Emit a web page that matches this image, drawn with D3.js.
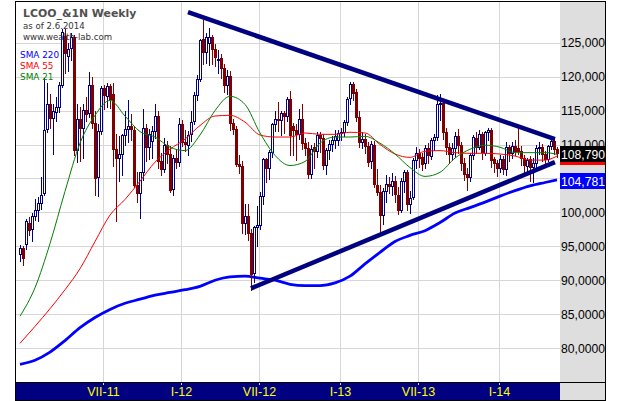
<!DOCTYPE html>
<html><head><meta charset="utf-8">
<script src="https://cdn.jsdelivr.net/npm/d3@7"></script>
<style>html,body{margin:0;padding:0;background:#fff;overflow:hidden}svg{display:block}</style>
</head><body>
<svg id="c" width="620" height="401"></svg>
<script>
// ---- weekly OHLC (Brent continuous, Dec 2010 - Jun 2014) ----
const opens = [
93.9,94.7,95.3,98.5,97.5,99.5,100.4,101.4,102.8,112.3,
116.0,113.9,114.8,115.6,118.7,126.0,123.0,124.2,125.8,109.2,
113.8,112.4,115.1,114.6,118.7,113.2,105.2,112.0,118.3,117.2,
118.6,117.5,109.4,108.0,108.6,111.4,112.3,112.8,112.2,104.0,
102.8,105.9,112.5,109.6,110.5,112.0,114.2,107.6,106.4,109.9,
108.6,103.4,108.0,107.4,113.0,110.4,110.0,111.5,113.4,117.3,
119.6,125.5,123.6,125.0,125.8,124.1,122.4,122.7,121.2,118.8,
120.1,113.2,112.3,107.1,106.8,98.4,99.5,97.0,91.0,97.8,
98.2,102.4,107.8,106.5,108.9,113.0,113.7,113.6,114.6,114.2,
116.7,112.7,112.2,111.5,113.8,110.2,109.5,105.7,109.6,109.0,
111.4,110.9,107.0,109.2,110.1,110.6,110.6,111.7,111.9,113.3,
116.8,118.9,117.7,114.0,110.4,110.8,109.8,107.5,110.0,104.1,
103.0,99.6,103.2,104.2,103.9,104.6,102.6,100.4,104.6,105.9,
101.2,102.2,107.7,108.8,108.1,107.2,109.5,108.3,110.6,111.1,
116.0,116.1,111.8,109.6,108.6,109.5,111.3,109.9,107.2,105.7,
105.2,108.5,111.0,109.7,111.6,108.8,111.8,112.2,107.8,107.2,
106.5,107.9,106.4,109.6,108.8,109.8,109.5,109.0,108.0,106.9,
107.8,106.7,107.3,109.5,109.6,108.6,107.9,109.8,110.5,109.4];
const highs = [
95.2,95.0,99.0,99.3,99.9,102.0,102.2,105.2,119.8,119.0,
117.4,116.0,117.0,119.2,127.0,127.0,124.9,126.4,126.2,115.9,
115.5,116.0,117.0,120.7,120.0,115.0,113.0,118.6,118.8,119.0,
118.9,119.0,111.5,111.2,111.5,115.0,116.5,114.5,112.8,106.0,
106.0,115.3,113.0,112.3,112.7,116.0,115.0,108.7,111.0,110.5,
109.8,108.5,109.4,113.9,113.6,112.2,112.0,115.0,117.8,120.2,
125.5,128.4,126.5,127.1,126.2,124.8,124.0,123.4,121.8,121.0,
120.9,113.8,112.8,108.5,107.5,101.3,101.2,97.5,98.0,101.0,
103.0,108.0,108.0,109.2,113.2,115.0,116.2,115.0,115.0,117.0,
117.9,113.2,113.0,115.2,116.0,111.0,110.3,110.0,110.2,111.8,
111.9,111.5,109.5,110.6,111.2,112.2,112.2,112.5,113.6,117.0,
119.2,119.2,118.2,115.0,111.9,111.5,110.4,110.5,110.5,106.4,
104.0,103.6,105.5,105.2,105.8,105.3,103.8,105.0,106.2,106.3,
103.2,108.0,109.6,109.4,108.7,110.0,110.2,111.0,111.6,117.3,
117.4,116.4,112.4,110.2,110.2,111.8,112.3,110.4,108.0,106.5,
108.8,111.4,111.8,112.2,111.9,112.0,112.5,112.4,108.2,107.7,
108.5,108.3,110.3,110.0,110.4,110.6,112.4,109.8,108.5,108.0,
108.3,108.0,110.0,110.4,110.1,109.0,110.0,111.0,110.9,109.6];
const lows = [
92.8,92.3,94.6,96.6,95.8,98.9,98.8,100.5,102.6,111.8,
112.5,108.6,113.5,114.8,118.5,120.5,120.9,122.5,108.4,107.4,
107.5,108.0,113.5,114.0,112.5,102.5,102.4,111.5,115.3,115.5,
115.4,106.9,98.7,104.6,105.5,110.0,110.3,110.7,103.8,101.5,
99.2,104.8,107.6,107.8,108.0,111.0,106.5,105.5,106.0,107.2,
103.0,102.5,106.5,106.9,109.8,109.0,108.5,110.5,113.0,116.5,
119.3,121.8,122.0,121.7,121.8,121.6,120.5,119.8,117.8,117.5,
112.1,111.6,106.8,105.8,97.0,96.8,95.9,88.5,89.8,95.0,
97.5,101.2,104.5,104.9,108.2,112.0,112.0,111.4,111.7,113.5,
108.4,108.5,107.7,110.8,109.3,108.5,105.0,105.0,106.5,108.2,
108.9,106.4,105.7,107.8,109.0,109.5,110.0,110.6,111.2,112.9,
115.9,116.5,113.5,109.7,109.5,108.8,106.8,106.5,103.8,102.5,
96.8,98.3,101.5,102.8,102.5,101.6,99.8,100.0,103.0,100.3,
99.9,101.9,106.5,106.7,106.3,106.5,107.3,107.8,109.2,110.6,
113.6,110.8,108.6,107.2,107.7,108.2,108.7,106.2,104.7,103.3,
104.6,107.8,108.8,109.4,107.9,108.5,110.6,106.7,105.9,105.3,
106.0,105.6,105.5,107.6,108.0,108.5,108.6,107.0,105.5,105.8,
104.6,104.5,106.5,108.6,107.6,107.0,107.5,109.3,108.6,108.2];
const closes = [
94.75,93.33,98.68,97.39,99.42,100.4,101.43,102.52,112.14,115.97,
113.84,114.9,115.59,118.7,126.65,123.45,124.1,125.89,109.13,113.83,
112.39,115.09,114.56,118.78,113.21,105.12,111.97,118.33,117.24,118.67,
116.74,109.37,108.03,108.62,111.36,112.33,112.77,112.22,104.0,102.8,
105.88,112.5,109.56,111.6,111.97,114.2,107.57,106.4,109.94,108.63,
103.35,107.96,107.38,113.06,110.44,110.04,111.46,113.36,117.31,119.58,
125.47,123.65,125.77,125.81,124.11,122.88,122.67,121.21,118.8,120.13,
113.18,112.26,107.14,106.83,98.43,99.47,97.02,90.98,97.8,98.19,
102.4,107.83,106.47,108.94,112.95,113.71,113.59,114.57,114.25,116.66,
111.42,112.2,111.5,113.8,110.2,109.55,105.68,109.4,109.0,111.38,
110.9,107.02,109.15,110.1,110.6,111.31,111.7,111.89,113.28,116.76,
118.9,117.66,114.01,110.4,110.85,109.82,107.47,110.02,104.12,102.97,
99.65,103.16,104.19,103.91,104.64,102.64,100.39,104.56,105.93,101.18,
102.16,107.72,108.81,108.07,107.17,109.54,108.5,110.6,111.1,116.0,
116.12,111.8,109.6,108.63,109.46,111.28,109.94,107.2,105.7,105.2,
108.5,111.05,109.69,111.61,108.83,111.77,112.18,107.78,107.25,106.48,
107.88,106.4,109.57,108.75,109.85,109.07,108.98,108.0,106.92,107.76,
106.72,107.33,109.53,109.58,108.59,107.89,109.75,110.54,109.41,108.79];

// ---- moving averages (at bar index smaIndex) ----
const smaIndex = [0,5,10,15,20,25,30,35,40,45,50,55,60,65,70,75,80,85,90,95,100,105,110,115,120,125,130,135,140,145,150,155,160,165,170,175,179];
const sma220 = [77.6,78.2,79.4,81.1,83.0,84.5,85.7,86.6,87.2,87.8,88.2,88.6,89.1,90.0,90.5,90.6,90.3,90.0,89.4,89.2,89.2,89.6,90.6,92.4,94.1,95.7,96.6,97.3,98.5,99.9,100.7,101.5,102.4,103.2,103.9,104.4,104.781];
const sma55 = [80.7,83.2,85.8,88.6,91.7,95.7,99.6,101.9,104.6,107.4,109.3,110.8,112.8,114.2,114.3,113.3,111.4,111.1,111.1,111.7,111.5,111.5,111.8,111.7,110.0,108.6,108.1,109.0,109.1,108.8,108.7,108.7,108.6,108.3,107.7,107.7,108.3];
const sma21 = [84.7,88.9,95.4,103.1,110.2,114.3,116.5,114.2,111.9,111.1,109.6,109.1,111.4,115.0,117.1,115.9,111.7,108.4,106.9,107.5,110.2,111.1,111.1,111.2,110.2,108.6,106.6,105.3,105.9,108.0,109.3,109.9,109.6,108.8,108.8,108.8,108.55];

// ---- trend lines [barIndex, price] ----
const trendUpper = [[56,129.5],[178.3,110.8]];
const trendLower = [[77,88.8],[178.3,107.4]];

// ---- axes ----
const yTicks = [80,85,90,95,100,105,110,115,120,125];
const yTickLabels = ["80,0000","85,0000","90,0000","95,0000","100,000","105,000","110,000","115,000","120,000","125,000"];
const xTickIndex = [28,54,80,107,133,160];
const xTickLabels = ["VII-11","I-12","VII-12","I-13","VII-13","I-14"];

const titleText = "LCOO_&1N Weekly";
const asOfText = "as of 2.6.2014";
const siteText = "www.wealth-lab.com";
const legendNames = ["SMA 220","SMA 55","SMA 21"];
const legendColors = ["#0000ff","#ff0000","#008000"];
const lastPrice = 108.79;

// ---- layout ----
const L=15, R=560, T=1, B=382, RE=605;
const svg = d3.select("#c");
const x = d3.scaleLinear().domain([0,179]).range([20,557]);
const y = d3.scaleLinear().domain([75,131]).range([382,2]);
const fmt = v => v.toFixed(3).replace(".", ",");

svg.append("rect").attr("x",0).attr("y",0).attr("width",620).attr("height",401).attr("fill","#fff");
svg.append("rect").attr("x",R).attr("y",T).attr("width",RE-R).attr("height",400-T).attr("fill","#dedede");
svg.append("rect").attr("x",L).attr("y",B).attr("width",R-L).attr("height",400-B).attr("fill","#000080");

const defs = svg.append("defs");
defs.append("clipPath").attr("id","plot").append("rect").attr("x",L+1).attr("y",T+1).attr("width",R-L-1).attr("height",B-T-1);
defs.append("clipPath").attr("id","axis").append("rect").attr("x",R).attr("y",T+1).attr("width",RE-R).attr("height",B-T-1);

// grid
const grid = svg.append("g").attr("stroke","#d6d6d6").attr("stroke-width",1);
grid.selectAll("line.h").data(yTicks).join("line")
  .attr("x1",L).attr("x2",R+1).attr("y1",d=>Math.round(y(d))+0.5).attr("y2",d=>Math.round(y(d))+0.5);
grid.selectAll("line.v").data(xTickIndex).join("line")
  .attr("x1",d=>Math.round(x(d))-0.5).attr("x2",d=>Math.round(x(d))-0.5).attr("y1",T).attr("y2",B+3);

const plot = svg.append("g").attr("clip-path","url(#plot)");

// SMA 220 (thick blue, behind candles)
const line = d3.line().x(d=>x(d[0])).y(d=>y(d[1])).curve(d3.curveMonotoneX);
const series = arr => smaIndex.map((k,j)=>[k,arr[j]]);
plot.append("path").attr("d",line(series(sma220))).attr("fill","none").attr("stroke","#0000ff").attr("stroke-width",2.8);

// candles
const bars = d3.range(closes.length);
const cg = plot.append("g");
bars.forEach(i=>{
  const o=opens[i], h=highs[i], l=lows[i], c=closes[i];
  const up = c>=o;
  const col = up ? "#000080" : "#800000";
  const cx = Math.round(x(i));
  cg.append("line").attr("x1",cx+0.5).attr("x2",cx+0.5)
    .attr("y1",Math.round(y(h))).attr("y2",Math.round(y(l))+1).attr("stroke",col).attr("stroke-width",1);
  const top = Math.round(y(Math.max(o,c))), bot = Math.round(y(Math.min(o,c)));
  cg.append("rect").attr("x",cx-0.5).attr("y",top+0.5).attr("width",2).attr("height",Math.max(1,bot-top))
    .attr("fill", up ? "#fff" : col).attr("stroke",col).attr("stroke-width",1);
});

plot.append("path").attr("d",line(series(sma55))).attr("fill","none").attr("stroke","#ff0000").attr("stroke-width",1);
plot.append("path").attr("d",line(series(sma21))).attr("fill","none").attr("stroke","#008000").attr("stroke-width",1);

// trend lines
[trendUpper,trendLower].forEach(t=>{
  plot.append("line").attr("x1",x(t[0][0])).attr("y1",y(t[0][1])).attr("x2",x(t[1][0])).attr("y2",y(t[1][1]))
    .attr("stroke","#000080").attr("stroke-width",4.5);
});

// texts
svg.append("text").attr("x",23).attr("y",17).text(titleText)
  .attr("font-family","'DejaVu Sans',sans-serif").attr("font-weight","bold").attr("font-size",10.9).attr("fill","#505050");
svg.append("text").attr("x",23).attr("y",29).text(asOfText)
  .attr("font-family","'DejaVu Sans',sans-serif").attr("font-size",8.6).attr("fill","#333");
svg.append("text").attr("x",23).attr("y",39.5).text(siteText)
  .attr("font-family","'DejaVu Sans',sans-serif").attr("font-size",8.6).attr("fill","#333");
legendNames.forEach((n,k)=>{
  svg.append("text").attr("x",20).attr("y",57.5+11*k).text(n)
    .attr("font-family","'DejaVu Sans',sans-serif").attr("font-size",8.9).attr("fill",legendColors[k]);
});

// right axis labels (105 label is fully covered by the SMA 220 box in the reference)
const ax = svg.append("g").attr("clip-path","url(#axis)");
yTicks.forEach((v,k)=>{
  if (v === 105) return;
  ax.append("text").attr("x",561).attr("y",y(v)).attr("dy","0.36em").text(yTickLabels[k])
    .attr("font-family","'Liberation Sans',Arial,sans-serif").attr("font-size",13)
    .attr("textLength",44).attr("lengthAdjust","spacingAndGlyphs").attr("fill","#000");
});
const box = (v,fill,txt,showText)=>{
  const yy = Math.round(y(v));
  ax.append("rect").attr("x",R).attr("y",yy-7).attr("width",RE-R).attr("height",16).attr("fill",fill);
  if (showText) ax.append("text").attr("x",561).attr("y",yy+1).attr("dy","0.36em").text(fmt(v))
    .attr("font-family","'Liberation Sans',Arial,sans-serif").attr("font-size",13)
    .attr("textLength",44).attr("lengthAdjust","spacingAndGlyphs").attr("fill",txt);
};
box(sma21[sma21.length-1],"#008000","#fff",false);
box(sma55[sma55.length-1],"#ff0000","#fff",false);
box(sma220[sma220.length-1],"#0000ff","#fff",true);
box(lastPrice,"#000","#fff",true);

// bottom labels
xTickIndex.forEach((d,k)=>{
  svg.append("text").attr("x",Math.round(x(d))-0.5).attr("y",396).attr("text-anchor","middle").text(xTickLabels[k])
    .attr("font-family","'Liberation Sans',Arial,sans-serif").attr("font-size",12.5).attr("fill","#ffff00");
});

// frame
const fr = svg.append("g").attr("stroke","#000").attr("stroke-width",1);
fr.append("line").attr("x1",L).attr("x2",RE+1).attr("y1",T+0.5).attr("y2",T+0.5);
fr.append("line").attr("x1",L).attr("x2",RE+1).attr("y1",B+0.5).attr("y2",B+0.5);
fr.append("line").attr("x1",L).attr("x2",RE+1).attr("y1",400.5).attr("y2",400.5);
fr.append("line").attr("x1",L+0.5).attr("x2",L+0.5).attr("y1",T).attr("y2",401);
fr.append("line").attr("x1",RE+0.5).attr("x2",RE+0.5).attr("y1",T).attr("y2",401);
</script>
</body></html>
